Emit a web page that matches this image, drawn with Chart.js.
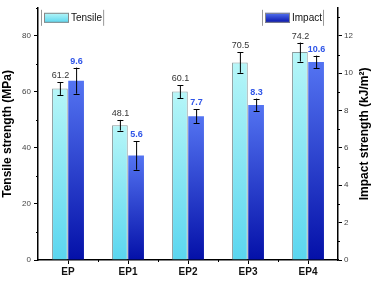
<!DOCTYPE html>
<html>
<head>
<meta charset="utf-8">
<script src="https://cdn.jsdelivr.net/npm/chart.js@4"></script>
<style>
  html, body { margin: 0; padding: 0; background: #fff; }
  #wrap { width: 378px; height: 288px; }
</style>
</head>
<body>
<div id="wrap"><canvas id="myChart" width="378" height="288"></canvas></div>
<script>
const labels = ['EP', 'EP1', 'EP2', 'EP3', 'EP4'];
const tensile = [61.2, 48.1, 60.1, 70.5, 74.2];
const tensileErr = [2.3, 1.9, 2.3, 3.7, 3.4];
const impact = [9.6, 5.6, 7.7, 8.3, 10.6];
const impactErr = [0.7, 0.77, 0.37, 0.34, 0.34];
const leftTicks = [0, 20, 40, 60, 80];
const rightTicks = [0, 2, 4, 6, 8, 10, 12];

const FONT = "'Liberation Sans', Arial, sans-serif";

function barGradient(ctx, stops) {
    const chart = ctx.chart;
    if (!chart.chartArea || ctx.type !== 'data') return stops[1];
    const ds = chart.data.datasets[ctx.datasetIndex];
    const scale = chart.scales[ds.yAxisID];
    const top = scale.getPixelForValue(ds.data[ctx.dataIndex]);
    const bottom = scale.getPixelForValue(0);
    const g = chart.ctx.createLinearGradient(0, top, 0, bottom);
    g.addColorStop(0, stops[0]);
    g.addColorStop(1, stops[1]);
    return g;
}

const cyanStops = ['#b6f6f8', '#5ad6ef'];
const blueStops = ['#5474f2', '#0410a8'];

// error bars, value labels, minor ticks, right title and the two legends
const extras = {
    id: 'extras',
    afterDatasetsDraw(chart) {
        const ctx = chart.ctx;
        const sets = [
            { idx: 0, vals: tensile, err: tensileErr, scale: chart.scales.y, color: '#333', bold: false },
            { idx: 1, vals: impact, err: impactErr, scale: chart.scales.y1, color: '#2f55e8', bold: true },
        ];
        ctx.save();
        sets.forEach(s => {
            const meta = chart.getDatasetMeta(s.idx);
            meta.data.forEach((bar, i) => {
                const x = bar.x;
                const hi = s.scale.getPixelForValue(s.vals[i] + s.err[i]);
                const lo = s.scale.getPixelForValue(s.vals[i] - s.err[i]);
                ctx.strokeStyle = '#000';
                ctx.lineWidth = 1;
                ctx.beginPath();
                ctx.moveTo(x + 0.5, hi);
                ctx.lineTo(x + 0.5, lo);
                ctx.moveTo(x - 2.5, Math.round(hi) + 0.5);
                ctx.lineTo(x + 3.5, Math.round(hi) + 0.5);
                ctx.moveTo(x - 2.5, Math.round(lo) + 0.5);
                ctx.lineTo(x + 3.5, Math.round(lo) + 0.5);
                ctx.stroke();
                ctx.fillStyle = s.color;
                ctx.font = (s.bold ? 'bold ' : '') + '9px ' + FONT;
                ctx.textAlign = 'center';
                ctx.textBaseline = 'bottom';
                ctx.fillText(s.vals[i].toFixed(1), x + 0.5, hi - 2);
            });
        });
        ctx.restore();
    },
    afterDraw(chart) {
        const ctx = chart.ctx;
        const a = chart.chartArea;
        const x = chart.scales.x, y = chart.scales.y, y1 = chart.scales.y1;
        ctx.save();
        ctx.strokeStyle = '#000';
        ctx.lineWidth = 1;
        ctx.beginPath();
        [10, 30, 50, 70, 90].forEach(v => {
            const p = Math.round(y.getPixelForValue(v)) + 0.5;
            ctx.moveTo(a.left, p);
            ctx.lineTo(a.left - 2, p);
        });
        [1, 3, 5, 7, 9, 11, 13].forEach(v => {
            const p = Math.round(y1.getPixelForValue(v)) + 0.5;
            ctx.moveTo(a.right, p);
            ctx.lineTo(a.right + 2, p);
        });
        for (let i = 0; i < labels.length - 1; i++) {
            const p = Math.round((x.getPixelForValue(i) + x.getPixelForValue(i + 1)) / 2) + 0.5;
            ctx.moveTo(p, a.bottom);
            ctx.lineTo(p, a.bottom + 2);
        }
        ctx.stroke();

        // right axis title, reading bottom to top like the left one
        ctx.save();
        ctx.translate(a.right + 27, (a.top + a.bottom) / 2);
        ctx.rotate(-Math.PI / 2);
        ctx.fillStyle = '#000';
        ctx.font = 'bold 12px ' + FONT;
        ctx.textAlign = 'center';
        ctx.textBaseline = 'middle';
        ctx.fillText('Impact strength (kJ/m²)', 0, 0);
        ctx.restore();

        // legends
        const drawLegend = (lx, text, stops) => {
            const top = a.top + 5, h = 10, w = 25;
            ctx.fillStyle = '#999';
            ctx.fillRect(lx, top - 3, 1, h + 6);
            const g = ctx.createLinearGradient(0, top, 0, top + h);
            g.addColorStop(0, stops[0]);
            g.addColorStop(1, stops[1]);
            ctx.fillStyle = g;
            ctx.fillRect(lx + 3, top, w, h);
            ctx.strokeStyle = '#888';
            ctx.strokeRect(lx + 3.5, top + 0.5, w - 1, h - 1);
            ctx.fillStyle = '#111';
            ctx.font = '10px ' + FONT;
            ctx.textAlign = 'left';
            ctx.textBaseline = 'middle';
            ctx.fillText(text, lx + w + 5, top + h / 2 + 0.5);
            const tw = ctx.measureText(text).width;
            ctx.fillStyle = '#999';
            ctx.fillRect(lx + w + 6 + tw, top - 3, 1, h + 6);
        };
        drawLegend(a.left + 3, 'Tensile', cyanStops);
        drawLegend(a.right - 76, 'Impact', blueStops);
        ctx.restore();
    }
};

const data = {
    labels: labels,
    datasets: [
        {
            label: 'Tensile',
            data: tensile,
            yAxisID: 'y',
            backgroundColor: ctx => barGradient(ctx, cyanStops),
            borderColor: '#8a9a9c',
            borderWidth: 1,
            borderSkipped: 'bottom',
            categoryPercentage: 0.54,
            barPercentage: 0.97,
        },
        {
            label: 'Impact',
            data: impact,
            yAxisID: 'y1',
            backgroundColor: ctx => barGradient(ctx, blueStops),
            borderWidth: 0,
            categoryPercentage: 0.54,
            barPercentage: 0.97,
        },
    ],
};

const config = {
    type: 'bar',
    data: data,
    plugins: [extras],
    options: {
        responsive: false,
        animation: false,
        layout: { padding: { top: 5, left: 0, right: 0, bottom: 0 } },
        plugins: {
            legend: false,
            tooltip: { enabled: false },
        },
        scales: {
            x: {
                afterFit: s => { s.height = 28; },
                grid: {
                    offset: false,
                    drawOnChartArea: false,
                    tickLength: 4,
                    tickColor: '#000',
                },
                border: { color: '#000', width: 1.5 },
                ticks: {
                    color: '#111',
                    padding: 2,
                    font: { family: FONT, size: 10, weight: 'bold' },
                },
            },
            y: {
                position: 'left',
                min: 0,
                max: 90,
                afterFit: s => { s.width = 38; },
                afterBuildTicks: s => { s.ticks = leftTicks.map(v => ({ value: v })); },
                grid: { drawOnChartArea: false, tickLength: 4, tickColor: '#000' },
                border: { color: '#000', width: 1.5 },
                ticks: {
                    color: '#444',
                    padding: 3,
                    font: { family: FONT, size: 8 },
                },
                title: {
                    display: true,
                    text: 'Tensile strength (MPa)',
                    color: '#000',
                    padding: { top: 0, bottom: 2 },
                    font: { family: FONT, size: 12, weight: 'bold' },
                },
            },
            y1: {
                position: 'right',
                min: 0,
                max: 13.5,
                afterFit: s => { s.width = 40; },
                afterBuildTicks: s => { s.ticks = rightTicks.map(v => ({ value: v })); },
                grid: { drawOnChartArea: false, tickLength: 4, tickColor: '#000' },
                border: { color: '#000', width: 1.5 },
                ticks: {
                    color: '#444',
                    padding: 2,
                    font: { family: FONT, size: 8 },
                },
            },
        },
    },
};

var myChart = new Chart(document.getElementById('myChart'), config);
</script>
</body>
</html>
